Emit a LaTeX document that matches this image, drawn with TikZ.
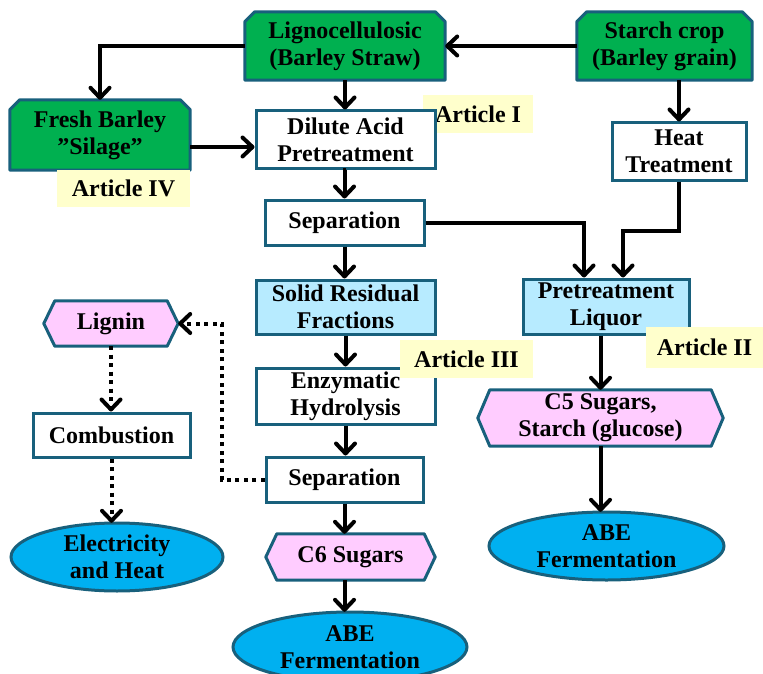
\documentclass[tikz,border=0pt]{standalone}
\usepackage{fontspec}
\setmainfont{Liberation Serif}
\usetikzlibrary{arrows.meta,backgrounds,calc}
\definecolor{bordc}{RGB}{24,96,124}
\definecolor{grn}{RGB}{0,176,80}
\definecolor{lblue}{RGB}{183,235,255}
\definecolor{pnk}{RGB}{255,204,255}
\definecolor{sky}{RGB}{0,176,240}
\definecolor{ylw}{RGB}{255,255,204}

\newcommand\mychamf[2]{%
  \filldraw[chamfs] (#1.south west) -- ([yshift=-#2pt]#1.north west) -- ([xshift=#2pt]#1.north west)
   -- ([xshift=-#2pt]#1.north east) -- ([yshift=-#2pt]#1.north east) -- (#1.south east) -- cycle;}
\newcommand\myhex[2]{%
  \filldraw[hexs] (#1.west) -- ([xshift=#2pt]#1.north west) -- ([xshift=-#2pt]#1.north east)
   -- (#1.east) -- ([xshift=-#2pt]#1.south east) -- ([xshift=#2pt]#1.south west) -- cycle;}
\newcommand\myell[3]{%
  \filldraw[ells] (#1.center) ellipse [x radius=#2pt, y radius=#3pt];}

\tikzset{
  base/.style={font=\fontsize{24}{27}\selectfont\bfseries, align=center, inner sep=0pt, anchor=center},
  txt/.style={base},
  box/.style={base, draw=bordc, line width=3pt, fill=white},
  bbox/.style={base, draw=bordc, line width=3pt, fill=lblue},
  lab/.style={base, fill=ylw},
  chamfs/.style={fill=grn, draw=bordc, line width=3pt, line join=round},
  hexs/.style={fill=pnk, draw=bordc, line width=3pt, line join=round},
  ells/.style={fill=sky, draw=bordc, line width=3pt},
  arr/.style={line width=4pt, -{Straight Barb[length=10pt,width=19pt,round]}},
  dotarr/.style={line width=4pt, dash pattern=on 4pt off 4.5pt, -{Straight Barb[length=10pt,width=19pt,round]}}
}

\begin{document}
\begin{tikzpicture}[x=1pt,y=-1pt]
\useasboundingbox (0,0) rectangle (763,674);

% shaped nodes (text only, shapes drawn on background)
\node[txt, minimum width=200pt, minimum height=68pt] (ligno) at (345,46) {Lignocellulosic\\(Barley Straw)};
\node[txt, minimum width=175pt, minimum height=68pt] (starch) at (664.5,46) {Starch crop\\(Barley grain)};
\node[txt, minimum width=180pt, minimum height=70pt] (fresh) at (100,135) {Fresh Barley\\”Silage”};
\node[txt, minimum width=134pt, minimum height=45pt] (lignin) at (111,323.5) {Lignin};
\node[txt, minimum width=245pt, minimum height=56pt] (c5) at (600.5,418) {C5 Sugars,\\Starch (glucose)};
\node[txt, minimum width=169pt, minimum height=46pt] (c6) at (350.5,557) {C6 Sugars};
\node[txt, minimum width=212pt, minimum height=68pt] (elec) at (117,557) {Electricity\\and Heat};
\node[txt, minimum width=234pt, minimum height=70pt] (abe1) at (350,647) {ABE\\Fermentation};
\node[txt, minimum width=235pt, minimum height=68pt] (abe2) at (606.5,546) {ABE\\Fermentation};

\begin{scope}[on background layer]
  \mychamf{ligno}{10}
  \mychamf{starch}{10}
  \mychamf{fresh}{10}
  \myhex{lignin}{11}
  \myhex{c5}{12}
  \myhex{c6}{11}
  \myell{elec}{106}{34}
  \myell{abe1}{117}{35}
  \myell{abe2}{117.5}{34}
\end{scope}

% Article I sits beneath the Dilute Acid box
\node[lab, minimum width=110pt, minimum height=38pt] (art1) at (478,114) {Article I};

% rectangular boxes
\node[box, minimum width=179pt, minimum height=57pt] (dilute) at (345.5,139.5) {Dilute Acid\\Pretreatment};
\node[box, minimum width=134pt, minimum height=57pt] (heat) at (679,151.5) {Heat\\Treatment};
\node[box, minimum width=159pt, minimum height=45pt] (sep1) at (344.5,222.5) {Separation};
\node[bbox, minimum width=179pt, minimum height=54pt] (solid) at (345.5,307) {Solid Residual\\Fractions};
\node[bbox, minimum width=166pt, minimum height=55pt] (liquor) at (606,306.5) {Pretreatment\\Liquor};
\node[box, minimum width=179pt, minimum height=56pt] (enz) at (345.5,396) {Enzymatic\\Hydrolysis};
\node[box, minimum width=157pt, minimum height=44pt] (comb) at (111.5,435) {Combustion};
\node[box, minimum width=157pt, minimum height=45pt] (sep2) at (344.5,479.5) {Separation};

% article labels on top
\node[lab, minimum width=133pt, minimum height=37pt] (art4) at (123.5,188.5) {Article IV};
\node[lab, minimum width=133pt, minimum height=38pt] (art3) at (466.5,359) {Article III};
\node[lab, minimum width=118pt, minimum height=41pt] (art2) at (704.5,347.5) {Article II};

% connectors
\draw[arr] (starch.west) -- (ligno.east);
\draw[arr] (ligno.west) -| (fresh.north);
\draw[arr] (ligno.south) -- (ligno.south |- dilute.north);
\draw[arr] (heat.north |- starch.south) -- (heat.north);
\coordinate (f1) at ([yshift=-12pt]fresh.east);
\draw[arr] (f1) -- (f1 -| dilute.west);
\draw[arr] (dilute.south) -- (dilute.south -| sep1.north) -- (sep1.north);
\draw[arr] (sep1.east) -| ([xshift=-22pt]liquor.north);
\coordinate (h1) at ([yshift=-49pt]heat.south);
\draw[arr] (heat.south) -- (h1) -| ([xshift=17pt]liquor.north);
\draw[arr] (sep1.south) -- (sep1.south |- solid.north);
\draw[arr] (solid.south) -- (solid.south |- enz.north);
\draw[arr] (enz.south) -- (enz.south |- sep2.north);
\draw[arr] (sep2.south) -- (sep2.south |- c6.north);
\draw[arr] (sep2.south |- c6.south) -- (sep2.south |- abe1.north);
\draw[arr] (c5.north |- liquor.south) -- (c5.north);
\draw[arr] (c5.south) -- (c5.south |- abe2.north);
\coordinate (d1) at ([xshift=-43pt]sep2.west);
\draw[dotarr] (sep2.west) -- (d1) |- (lignin.east);
\draw[dotarr] (lignin.south) -- (lignin.south |- comb.north);
\draw[dotarr] (comb.south) -- (comb.south |- elec.north);
\end{tikzpicture}
\end{document}
